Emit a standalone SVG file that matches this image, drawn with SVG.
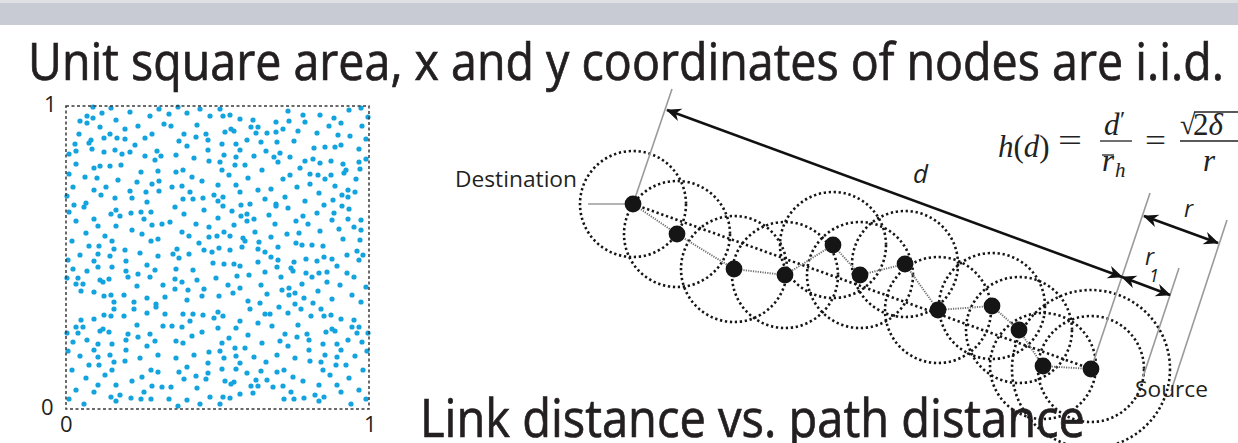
<svg xmlns="http://www.w3.org/2000/svg" xmlns:xlink="http://www.w3.org/1999/xlink" width="1238" height="443" viewBox="0 0 1238 443">
  <style>
    .sans { font-family: "Open Sans", "Noto Sans", "Liberation Sans", sans-serif; fill: #231f20; }
    .heavy { stroke: #231f20; stroke-width: 0.7; }
    .math { font-family: "Liberation Serif", "DejaVu Serif", serif; fill: #222; }
    .it { font-style: italic; }
    .pt { fill: #13a3de; }
    .range { fill: none; stroke: #161616; stroke-width: 2.6; stroke-dasharray: 2.3 2.7; }
    .link { fill: none; stroke: #6e6e6e; stroke-width: 1.9; stroke-dasharray: 1.2 1.2; }
    .guide { fill: none; stroke: #9a9a9a; stroke-width: 1.6; }
    .dim { fill: none; stroke: #111; stroke-width: 2.6; marker-start: url(#tip); marker-end: url(#tip); }
    .node { fill: #151515; }
    .bar { stroke: #222; stroke-width: 1.3; }
  </style>
  <defs>
    <marker id="tip" viewBox="-16 -8 18 16" refX="0" refY="0" markerWidth="18" markerHeight="16" markerUnits="userSpaceOnUse" orient="auto-start-reverse">
      <path d="M1,0 L-14,-6.5 L-9.5,0 L-14,6.5 Z" fill="#111"/>
    </marker>
    <!-- one 101x101 block of scattered points, reused with symmetries -->
    <g id="tile">
      <circle class="pt" cx="14" cy="15" r="2.6"/><circle class="pt" cx="92" cy="65" r="2.6"/>
      <circle class="pt" cx="35" cy="89" r="2.6"/><circle class="pt" cx="79" cy="32" r="2.6"/>
      <circle class="pt" cx="38" cy="46" r="2.6"/><circle class="pt" cx="26" cy="43" r="2.6"/>
      <circle class="pt" cx="38" cy="32" r="2.6"/><circle class="pt" cx="79" cy="50" r="2.6"/>
      <circle class="pt" cx="28" cy="84" r="2.6"/><circle class="pt" cx="19" cy="71" r="2.6"/>
      <circle class="pt" cx="69" cy="39" r="2.6"/><circle class="pt" cx="93" cy="75" r="2.6"/>
      <circle class="pt" cx="10" cy="58" r="2.6"/><circle class="pt" cx="20" cy="97" r="2.6"/>
      <circle class="pt" cx="49" cy="44" r="2.6"/><circle class="pt" cx="59" cy="23" r="2.6"/>
      <circle class="pt" cx="7" cy="81" r="2.6"/><circle class="pt" cx="64" cy="6" r="2.6"/>
      <circle class="pt" cx="28" cy="62" r="2.6"/><circle class="pt" cx="8" cy="99" r="2.6"/>
      <circle class="pt" cx="86" cy="28" r="2.6"/><circle class="pt" cx="3" cy="48" r="2.6"/>
      <circle class="pt" cx="25" cy="34" r="2.6"/><circle class="pt" cx="21" cy="17" r="2.6"/>
      <circle class="pt" cx="80" cy="86" r="2.6"/><circle class="pt" cx="51" cy="32" r="2.6"/>
      <circle class="pt" cx="9" cy="38" r="2.6"/><circle class="pt" cx="44" cy="60" r="2.6"/>
      <circle class="pt" cx="95" cy="50" r="2.6"/><circle class="pt" cx="31" cy="72" r="2.6"/>
      <circle class="pt" cx="40" cy="81" r="2.6"/><circle class="pt" cx="45" cy="2" r="2.6"/>
      <circle class="pt" cx="84" cy="10" r="2.6"/><circle class="pt" cx="27" cy="1" r="2.6"/>
      <circle class="pt" cx="93" cy="85" r="2.6"/><circle class="pt" cx="21" cy="10" r="2.6"/>
      <circle class="pt" cx="55" cy="59" r="2.6"/><circle class="pt" cx="64" cy="46" r="2.6"/>
      <circle class="pt" cx="89" cy="54" r="2.6"/><circle class="pt" cx="93" cy="3" r="2.6"/>
      <circle class="pt" cx="81" cy="96" r="2.6"/><circle class="pt" cx="44" cy="28" r="2.6"/>
      <circle class="pt" cx="75" cy="66" r="2.6"/><circle class="pt" cx="59" cy="33" r="2.6"/>
      <circle class="pt" cx="56" cy="48" r="2.6"/><circle class="pt" cx="23" cy="37" r="2.6"/>
      <circle class="pt" cx="86" cy="78" r="2.6"/><circle class="pt" cx="27" cy="12" r="2.6"/>
      <circle class="pt" cx="1" cy="90" r="2.6"/><circle class="pt" cx="91" cy="45" r="2.6"/>
      <circle class="pt" cx="64" cy="85" r="2.6"/><circle class="pt" cx="66" cy="92" r="2.6"/>
      <circle class="pt" cx="34" cy="60" r="2.6"/><circle class="pt" cx="10" cy="45" r="2.6"/>
      <circle class="pt" cx="36" cy="7" r="2.6"/><circle class="pt" cx="72" cy="20" r="2.6"/>
      <circle class="pt" cx="52" cy="74" r="2.6"/><circle class="pt" cx="71" cy="76" r="2.6"/>
      <circle class="pt" cx="50" cy="14" r="2.6"/><circle class="pt" cx="13" cy="28" r="2.6"/>
      <circle class="pt" cx="98" cy="18" r="2.6"/><circle class="pt" cx="49" cy="92" r="2.6"/>
      <circle class="pt" cx="3" cy="68" r="2.6"/><circle class="pt" cx="34" cy="21" r="2.6"/>
    </g>
  </defs>

  <rect width="1238" height="443" fill="#ffffff"/>
  <!-- header band -->
  <rect x="0" y="0" width="1238" height="3" fill="#dfe0e4"/>
  <rect x="0" y="3" width="1238" height="22" fill="#c8cbd3"/>

  <text class="sans heavy" x="28" y="80" font-size="51" textLength="1196" lengthAdjust="spacingAndGlyphs">Unit square area, x and y coordinates of nodes are i.i.d.</text>

  <!-- unit square with uniformly scattered nodes -->
  <g id="unit-square">
    <use xlink:href="#tile" transform="translate(66,106)"/>
    <use xlink:href="#tile" transform="translate(167,106) rotate(90 50.5 50.5)"/>
    <use xlink:href="#tile" transform="translate(268,106) rotate(180 50.5 50.5)"/>
    <use xlink:href="#tile" transform="translate(66,204) rotate(270 50.5 50.5)"/>
    <use xlink:href="#tile" transform="translate(167,204) matrix(-1,0,0,1,101,0)"/>
    <use xlink:href="#tile" transform="translate(268,204) matrix(1,0,0,-1,0,101)"/>
    <use xlink:href="#tile" transform="translate(66,306) matrix(0,1,1,0,0,0)"/>
    <use xlink:href="#tile" transform="translate(167,306) matrix(0,-1,-1,0,101,101)"/>
    <use xlink:href="#tile" transform="translate(268,306) rotate(90 50.5 50.5)"/>
    <rect x="66" y="106" width="303" height="303" fill="none" stroke="#3a3a3a" stroke-width="1.5" stroke-dasharray="3 2.5"/>
    <text class="sans" x="44" y="112" font-size="22">1</text>
    <text class="sans" x="41" y="415" font-size="22">0</text>
    <text class="sans" x="60" y="432" font-size="22">0</text>
    <text class="sans" x="364" y="432" font-size="22">1</text>
  </g>

  <!-- transmission ranges -->
  <g id="ranges">
    <circle class="range" cx="633" cy="204" r="53"/>
    <circle class="range" cx="677" cy="234" r="53"/>
    <circle class="range" cx="734" cy="269" r="53"/>
    <circle class="range" cx="785" cy="275" r="53"/>
    <circle class="range" cx="833" cy="245" r="53"/>
    <circle class="range" cx="860" cy="275" r="53"/>
    <circle class="range" cx="905" cy="264" r="53"/>
    <circle class="range" cx="938" cy="310" r="53"/>
    <circle class="range" cx="992" cy="306" r="53"/>
    <circle class="range" cx="1019" cy="330" r="53"/>
    <circle class="range" cx="1043" cy="366" r="53"/>
    <circle class="range" cx="1091" cy="369" r="53"/>
    <circle class="range" cx="1091" cy="369" r="79"/>
  </g>

  <!-- connectors: straight line, hop path, guides and dimensions -->
  <g id="connectors">
    <line class="range" x1="633" y1="204" x2="1091" y2="369"/>
    <polyline class="link" points="633,204 677,234 734,269 785,275 833,245 860,275 905,264 938,310 992,306 1019,330 1043,366 1091,369"/>
    <line class="guide" x1="588" y1="204" x2="633" y2="204"/>
    <line class="guide" x1="633" y1="204" x2="672" y2="89"/>
    <line class="guide" x1="1091" y1="369" x2="1150" y2="193"/>
    <line class="guide" x1="1143" y1="377" x2="1179" y2="268"/>
    <line class="guide" x1="1171" y1="391" x2="1227" y2="220"/>
    <line class="dim" x1="667" y1="110" x2="1122" y2="277"/>
    <line class="dim" x1="1122" y1="277" x2="1170" y2="295"/>
    <line class="dim" x1="1144" y1="216" x2="1218" y2="243"/>
  </g>

  <!-- nodes on the route -->
  <g id="node-destination"><circle class="node" cx="633" cy="204" r="8.4"/></g>
  <g id="node-2"><circle class="node" cx="677" cy="234" r="8.4"/></g>
  <g id="node-3"><circle class="node" cx="734" cy="269" r="8.4"/></g>
  <g id="node-4"><circle class="node" cx="785" cy="275" r="8.4"/></g>
  <g id="node-5"><circle class="node" cx="833" cy="245" r="8.4"/></g>
  <g id="node-6"><circle class="node" cx="860" cy="275" r="8.4"/></g>
  <g id="node-7"><circle class="node" cx="905" cy="264" r="8.4"/></g>
  <g id="node-8"><circle class="node" cx="938" cy="310" r="8.4"/></g>
  <g id="node-9"><circle class="node" cx="992" cy="306" r="8.4"/></g>
  <g id="node-10"><circle class="node" cx="1019" cy="330" r="8.4"/></g>
  <g id="node-11"><circle class="node" cx="1043" cy="366" r="8.4"/></g>
  <g id="node-source"><circle class="node" cx="1091" cy="369" r="8.4"/></g>

  <!-- labels -->
  <text class="sans" x="455" y="187" font-size="21" textLength="122" lengthAdjust="spacingAndGlyphs">Destination</text>
  <text class="sans it" x="913" y="183" font-size="26">d</text>
  <text class="sans it" x="1184" y="217" font-size="23">r</text>
  <text class="sans it" x="1145" y="265" font-size="23">r</text>
  <text class="sans it" x="1149" y="282" font-size="18">1</text>
  <text class="sans" x="1135" y="397" font-size="22" textLength="73" lengthAdjust="spacingAndGlyphs">Source</text>

  <!-- hop-count formula -->
  <g id="formula">
    <text class="math" x="998" y="157" font-size="31"><tspan class="it">h</tspan>(<tspan class="it">d</tspan>)</text>
    <text class="math" x="1058" y="151" font-size="31" textLength="24" lengthAdjust="spacingAndGlyphs">=</text>
    <text class="math it" x="1104" y="135" font-size="31">d</text>
    <text class="math" x="1120" y="127" font-size="24">′</text>
    <line class="bar" x1="1100" y1="141" x2="1132" y2="141"/>
    <line class="bar" x1="1102" y1="155" x2="1114" y2="155"/>
    <text class="math it" x="1102" y="171" font-size="31">r</text>
    <text class="math it" x="1115" y="177" font-size="21">h</text>
    <text class="math" x="1145" y="151" font-size="31" textLength="21" lengthAdjust="spacingAndGlyphs">=</text>
    <line class="bar" x1="1180" y1="141" x2="1238" y2="141"/>
    <text class="math" x="1180" y="134" font-size="28">√</text>
    <line class="bar" x1="1194" y1="112" x2="1238" y2="112"/>
    <text class="math" x="1193" y="135" font-size="31">2<tspan class="it">δ</tspan></text>
    <text class="math it" x="1203" y="171" font-size="31">r</text>
  </g>

  <text class="sans heavy" x="420" y="437" font-size="53" textLength="665" lengthAdjust="spacingAndGlyphs">Link distance vs. path distance</text>
</svg>
